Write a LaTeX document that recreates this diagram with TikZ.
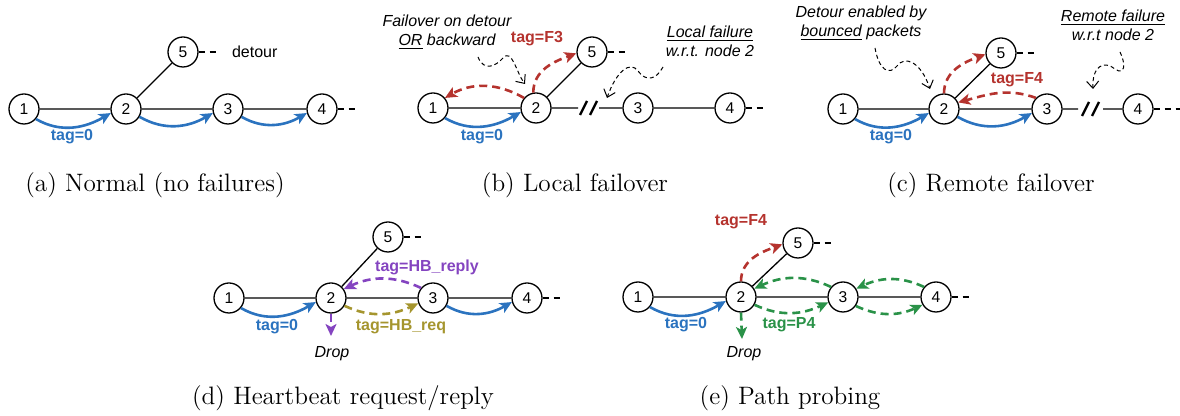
\documentclass[tikz,border=0pt]{standalone}
\usepackage{fontspec}
\newfontfamily\hv{Liberation Sans}
\usetikzlibrary{arrows.meta}
\definecolor{tagblue}{HTML}{2B73BF}
\definecolor{tagred}{HTML}{B5332E}
\definecolor{tagpurple}{HTML}{8444C0}
\definecolor{tagolive}{HTML}{A5952E}
\definecolor{taggreen}{HTML}{2A9248}
\begin{document}
\begin{tikzpicture}[x=0.5pt,y=0.5pt,
 nd/.style={circle,draw,line width=0.65pt,minimum size=15pt,inner sep=0pt,font=\hv\fontsize{7.8}{9}\selectfont},
 ln/.style={line width=0.65pt},
 stub/.style={line width=0.65pt,dash pattern=on 3pt off 2.5pt},
 brk/.style={line width=1.2pt},
 flow/.style={line width=1.3pt,-{Stealth[length=6pt,width=5.5pt,inset=1.5pt]}},
 dflow/.style={flow,dash pattern=on 4pt off 2.5pt},
 lbl/.style={font=\hv\bfseries\fontsize{8}{9.6}\selectfont},
 plain/.style={font=\hv\fontsize{8}{9.6}\selectfont},
 note/.style={font=\hv\itshape\fontsize{8}{9.5}\selectfont,align=center},
 squig/.style={line width=0.5pt,dash pattern=on 2pt off 1.5pt,-{Straight Barb[length=3.5pt,width=6pt]}},
 capt/.style={font=\fontsize{12.6}{14}\selectfont}
]
\useasboundingbox (0,0) rectangle (1180,-416);

% ---------------- (a) ----------------
\node[nd] (a1) at (24,-109) {1};
\node[nd] (a2) at (126,-109) {2};
\node[nd] (a3) at (228,-109) {3};
\node[nd] (a4) at (322,-109) {4};
\node[nd] (a5) at (183,-52) {5};
\draw[ln] (a1)--(a2)--(a3)--(a4) (a2)--(a5);
\draw[stub] (a5.east) -- ++(18,0);
\draw[stub] (a4.east) -- ++(18,0);
\node[plain,anchor=west] (adet) at (225,-52) {detour};
\draw[flow,tagblue] (a1.-40) to[out=-30,in=-150] (a2.-165);
\draw[flow,tagblue] (a2.-30) to[out=-30,in=-150] (a3.-165);
\draw[flow,tagblue] (a3.-30) to[out=-30,in=-150] (a4.-165);
\node[lbl,tagblue] (atag) at (72,-137) {tag=0};
\node[capt] (acap) at (155,-185) {(a) Normal (no failures)};

% ---------------- (b) ----------------
\node[nd] (b1) at (433,-108) {1};
\node[nd] (b2) at (536,-108) {2};
\node[nd] (b3) at (638,-108) {3};
\node[nd] (b4) at (730,-108) {4};
\node[nd] (b5) at (592,-52) {5};
\coordinate (bkl) at (578,-108);
\coordinate (bkr) at (599,-108);
\draw[ln] (b1)--(b2) (b3)--(b4) (b2)--(b5) (b2)--(bkl) (bkr)--(b3);
\draw[brk] (580,-115)--(587,-101) (590,-115)--(597,-101);
\draw[stub] (b5.east) -- ++(18,0);
\draw[stub] (b4.east) -- ++(18,0);
\draw[flow,tagblue] (b1.-40) to[out=-30,in=-150] (b2.-165);
\draw[dflow,tagred] (b2.140) to[out=150,in=30] (b1.40);
\draw[dflow,tagred] (b2.100) to[out=90,in=200] (b5.185);
\node[lbl,tagred] (btag3) at (537,-39) {tag=F3};
\node[lbl,tagblue] (btag0) at (482,-137) {tag=0};
\node[note] (bn1) at (447,-32) {Failover on detour\\\underline{OR} backward};
\node[note] (bn2) at (710,-41) {\underline{Local failure}\\w.r.t. node 2};
\coordinate (bs1) at (478,-57);
\coordinate (be1) at (525,-84);
\coordinate (bs2) at (663,-67);
\coordinate (be2) at (607,-98);
\draw[squig] (bs1) .. controls (484,-72) and (496,-66) .. (503,-58) .. controls (512,-48) and (516,-72) .. (be1);
\draw[squig] (bs2) .. controls (656,-80) and (646,-82) .. (638,-71) .. controls (630,-60) and (616,-72) .. (be2);
\node[capt] (bcap) at (575,-185) {(b) Local failover};

% ---------------- (c) ----------------
\node[nd] (c1) at (843,-109) {1};
\node[nd] (c2) at (944,-109) {2};
\node[nd] (c3) at (1047,-109) {3};
\node[nd] (c4) at (1138,-109) {4};
\node[nd] (c5) at (1001,-53) {5};
\coordinate (ckl) at (1078,-109);
\coordinate (ckr) at (1103,-109);
\draw[ln] (c1)--(c2)--(c3) (c2)--(c5) (c3)--(ckl) (ckr)--(c4);
\draw[brk] (1082,-116)--(1089,-102) (1092,-116)--(1099,-102);
\draw[stub] (c5.east) -- ++(18,0);
\draw[stub] (c4.east) -- ++(27,0);
\draw[flow,tagblue] (c1.-40) to[out=-30,in=-150] (c2.-165);
\draw[flow,tagblue] (c2.-30) to[out=-30,in=-150] (c3.-165);
\draw[dflow,tagred] (c2.90) to[out=90,in=200] (c5.185);
\draw[dflow,tagred] (c3.135) to[out=160,in=15] (c2.25);
\node[lbl,tagred] (ctag4) at (1017,-80) {tag=F4};
\node[lbl,tagblue] (ctag0) at (891,-137) {tag=0};
\node[note] (cn1) at (861,-23) {Detour enabled by\\\underline{bounced} packets};
\node[note] (cn2) at (1113,-25) {\underline{Remote failure}\\w.r.t node 2};
\coordinate (cs1) at (875,-48);
\coordinate (ce1) at (930,-89);
\coordinate (cs2) at (1120,-52);
\coordinate (ce2) at (1093,-89);
\draw[squig] (cs1) .. controls (879,-70) and (889,-76) .. (897,-66) .. controls (905,-55) and (921,-62) .. (ce1);
\draw[squig] (cs2) .. controls (1126,-64) and (1125,-76) .. (1115,-69) .. controls (1104,-60) and (1092,-66) .. (ce2);
\node[capt] (ccap) at (991,-185) {(c) Remote failover};

% ---------------- (d) ----------------
\node[nd] (d1) at (229,-298) {1};
\node[nd] (d2) at (331,-298) {2};
\node[nd] (d3) at (433,-298) {3};
\node[nd] (d4) at (527,-298) {4};
\node[nd] (d5) at (388,-237) {5};
\draw[ln] (d1)--(d2)--(d3)--(d4) (d2)--(d5);
\draw[stub] (d5.east) -- ++(18,0);
\draw[stub] (d4.east) -- ++(18,0);
\draw[flow,tagblue] (d1.-40) to[out=-30,in=-150] (d2.-165);
\draw[flow,tagblue] (d3.-30) to[out=-30,in=-150] (d4.-165);
\draw[dflow,tagpurple] (d3.140) to[out=155,in=25] (d2.35);
\draw[dflow,tagolive] (d2.-30) to[out=-25,in=-155] (d3.-160);
\coordinate (dd) at (331,-336);
\draw[dflow,tagpurple] (d2.south) -- (dd);
\node[note] (ddrop) at (332,-354) {Drop};
\node[lbl,tagpurple] (dtr) at (427,-267) {tag=HB\_reply};
\node[lbl,tagolive] (dtq) at (401,-327) {tag=HB\_req};
\node[lbl,tagblue] (dt0) at (277,-327) {tag=0};
\node[capt] (dcap) at (343,-398) {(d) Heartbeat request/reply};

% ---------------- (e) ----------------
\node[nd] (e1) at (638,-297) {1};
\node[nd] (e2) at (741,-297) {2};
\node[nd] (e3) at (843,-297) {3};
\node[nd] (e4) at (936,-297) {4};
\node[nd] (e5) at (798,-243) {5};
\draw[ln] (e1)--(e2)--(e3)--(e4) (e2)--(e5);
\draw[stub] (e5.east) -- ++(18,0);
\draw[stub] (e4.east) -- ++(18,0);
\draw[flow,tagblue] (e1.-40) to[out=-30,in=-150] (e2.-165);
\draw[dflow,tagred] (e2.90) to[out=90,in=200] (e5.185);
\draw[dflow,taggreen] (e3.140) to[out=155,in=25] (e2.32);
\draw[dflow,taggreen] (e2.-30) to[out=-25,in=-155] (e3.-160);
\draw[dflow,taggreen] (e4.140) to[out=155,in=25] (e3.32);
\draw[dflow,taggreen] (e3.-35) to[out=-25,in=-155] (e4.-150);
\coordinate (ed) at (742,-339);
\draw[dflow,taggreen] (e2.south) -- (ed);
\node[note] (edrop) at (744,-354) {Drop};
\node[lbl,tagred] (etf) at (741,-222) {tag=F4};
\node[lbl,taggreen] (etp) at (789,-325) {tag=P4};
\node[lbl,tagblue] (et0) at (686,-325) {tag=0};
\node[capt] (ecap) at (790,-398) {(e) Path probing};
\end{tikzpicture}
\end{document}
